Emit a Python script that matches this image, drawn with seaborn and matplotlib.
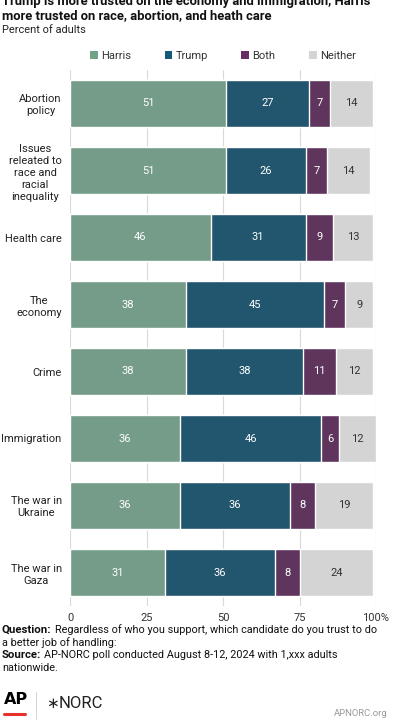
import numpy as np
import pandas as pd
import matplotlib.pyplot as plt
import seaborn as sns
from matplotlib.patches import Patch

# dados
temas = ['Abortion\npolicy', 'Issues\nreleated to\nrace and\nracial\ninequality', 'Health care',
         'The\neconomy', 'Crime', 'Immigration', 'The war in\nUkraine', 'The war in\nGaza']
harris = [51, 51, 46, 38, 38, 36, 36, 31]
trump = [27, 26, 31, 45, 38, 46, 36, 36]
both = [7, 7, 9, 7, 11, 6, 8, 8]
neither = [14, 14, 13, 9, 12, 12, 19, 24]
series = ['Harris', 'Trump', 'Both', 'Neither']
cores = ['#6fa288', '#165a7a', '#662e64', '#d4d4d4']

sns.set_style('white')
plt.rcParams['font.family'] = ['Roboto', 'DejaVu Sans']

df = pd.DataFrame({'tema': temas, 'Harris': harris, 'Trump': trump, 'Both': both, 'Neither': neither})
acum = df[series].cumsum(axis=1)

fig = plt.figure(figsize=(3.94, 7.2), dpi=100)
ax = fig.add_axes([70/394, 114/720, 306/394, 536/720])

# barras empilhadas: desenha do total para o menor
for s, c in reversed(list(zip(series, cores))):
    sns.barplot(x=acum[s], y=df['tema'], color=c, orient='h', width=0.7, ax=ax, zorder=2)

# rotulos
for i in range(len(df)):
    esq = 0
    for s in series:
        v = df.loc[i, s]
        cor_txt = '#333333' if s == 'Neither' else 'white'
        ax.text(esq + v / 2, i, str(v), ha='center', va='center', fontsize=8, color=cor_txt, zorder=3)
        esq += v

ax.set_xlim(0, 100)
ax.set_ylim(7.5, -0.5)
ax.set_xticks([0, 25, 50, 75, 100])
ax.set_xticklabels(['0', '25', '50', '75', '100%'])
ax.grid(axis='x', color='#d9d9d9', lw=0.8, zorder=0)
ax.set_axisbelow(True)
for sp in ax.spines.values():
    sp.set_visible(False)
ax.set_xlabel('')
ax.set_ylabel('')
ax.tick_params(axis='x', length=0, pad=5, labelsize=8, labelcolor='#333333')
ax.tick_params(axis='y', length=0, pad=6, labelsize=8, labelcolor='#222222')
for lab in ax.get_yticklabels():
    lab.set_multialignment('center')
    lab.set_linespacing(1.25)

handles = [Patch(facecolor=c, edgecolor='none') for c in cores]
ax.legend(handles, series, loc='center', bbox_to_anchor=(0.5, 1 + 14/536), ncol=4, frameon=False,
          fontsize=8, handlelength=0.7, handleheight=0.7, handletextpad=0.3, columnspacing=3.0,
          labelcolor='#333333', borderaxespad=0)

# titulo
fig.text(2/394, 1 - 1/720, 'Trump is more trusted on the economy and immigration, Harris',
         fontsize=9.4, fontweight='bold', va='center', ha='left', color='#111111')
fig.text(2/394, 1 - 16/720, 'more trusted on race, abortion, and heath care',
         fontsize=9.4, fontweight='bold', va='center', ha='left', color='#111111')
fig.text(2/394, 1 - 30/720, 'Percent of adults', fontsize=7.9, va='center', ha='left', color='#222222')

# rodape
rend = fig.canvas.get_renderer()
def linha_rodape(y, negrito, resto):
    x0 = 2
    if negrito:
        t = fig.text(x0/394, 1 - y/720, negrito, fontsize=8.2, fontweight='bold', va='center', ha='left', color='#111111')
        x0 += t.get_window_extent(rend).width + 3
    fig.text(x0/394, 1 - y/720, resto, fontsize=7.8, va='center', ha='left', color='#111111')

linha_rodape(630, 'Question:', 'Regardless of who you support, which candidate do you trust to do')
linha_rodape(643, '', 'a better job of handling:')
linha_rodape(655, 'Source:', 'AP-NORC poll conducted August 8-12, 2024 with 1,xxx adults')
linha_rodape(668, '', 'nationwide.')

# logos
fig.text(4/394, 1 - 700/720, 'AP', fontsize=11.5, fontweight='bold', va='center', ha='left', color='black',
         family='Liberation Sans Narrow')
fig.add_artist(plt.Line2D([4/394, 25/394], [1 - 714/720, 1 - 714/720], color='#e8302c', lw=2.2))
fig.add_artist(plt.Line2D([36/394, 36/394], [1 - 692/720, 1 - 719/720], color='#cccccc', lw=0.6))
fig.text(46/394, 1 - 703/720, '\u2217', fontsize=11, va='center', ha='left', color='#222222',
         family='DejaVu Sans')
fig.text(59/394, 1 - 703/720, 'NORC', fontsize=12, va='center', ha='left', color='#222222')
fig.text(388/394, 1 - 713/720, 'APNORC.org', fontsize=6.8, va='center', ha='right', color='#999999')

fig.savefig('out.png', dpi=100)
